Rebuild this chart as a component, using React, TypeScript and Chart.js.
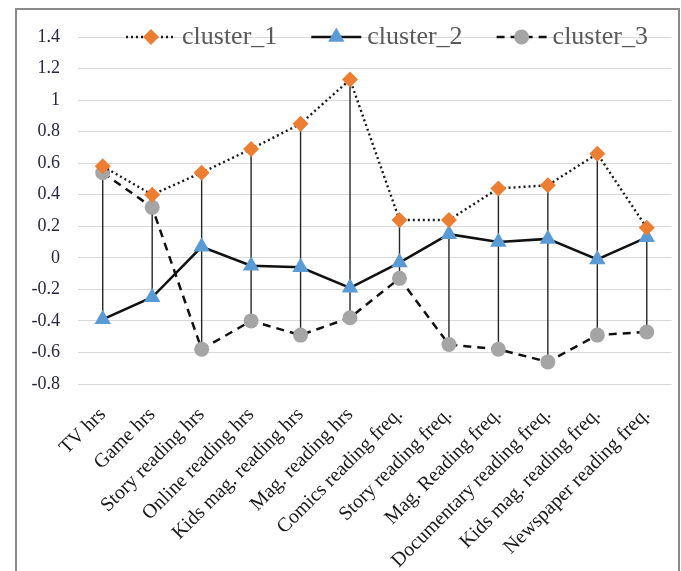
import React, { useEffect, useRef } from "react";
import { Chart, registerables } from "chart.js";

Chart.register(...registerables);

const categories = [
  "TV hrs",
  "Game hrs",
  "Story reading hrs",
  "Online reading hrs",
  "Kids mag. reading hrs",
  "Mag. reading hrs",
  "Comics reading freq.",
  "Story reading freq.",
  "Mag. Reading freq.",
  "Documentary reading freq.",
  "Kids mag. reading freq.",
  "Newspaper reading freq.",
];

const cluster1 = [0.58, 0.4, 0.54, 0.69, 0.85, 1.13, 0.24, 0.24, 0.44, 0.46, 0.66, 0.19];
const cluster2 = [-0.39, -0.25, 0.07, -0.05, -0.06, -0.19, -0.03, 0.15, 0.1, 0.12, -0.01, 0.13];
const cluster3 = [0.54, 0.32, -0.58, -0.4, -0.49, -0.38, -0.13, -0.55, -0.58, -0.66, -0.49, -0.47];

const yMin = -0.8;
const yMax = 1.4;
const yStep = 0.2;

const SERIF = '"Liberation Serif", "Times New Roman", serif';

const highLowPlugin = {
  id: "highLow",
  beforeDatasetsDraw(chart: any) {
    const { ctx, scales } = chart;
    const x = scales.x;
    const y = scales.y;
    const sets = chart.data.datasets.map((d: any) => d.data as number[]);
    ctx.save();
    ctx.strokeStyle = "#262626";
    ctx.lineWidth = 1.4;
    for (let i = 0; i < categories.length; i++) {
      const vals = sets.map((s: number[]) => s[i]);
      const hi = Math.max(...vals);
      const lo = Math.min(...vals);
      const px = x.getPixelForValue(i);
      ctx.beginPath();
      ctx.moveTo(px, y.getPixelForValue(hi));
      ctx.lineTo(px, y.getPixelForValue(lo));
      ctx.stroke();
    }
    ctx.restore();
  },
};

const legendPlugin = {
  id: "customLegend",
  afterDraw(chart: any) {
    const { ctx, scales } = chart;
    const cy = scales.y.getPixelForValue(yMax);
    const lineLen = 50;
    const gapText = 6;
    const itemGap = 34;
    let x = 126;
    ctx.save();
    ctx.font = `26px ${SERIF}`;
    ctx.textBaseline = "middle";
    ctx.textAlign = "left";
    chart.data.datasets.forEach((ds: any) => {
      ctx.save();
      ctx.strokeStyle = ds.borderColor;
      ctx.lineWidth = ds.borderWidth;
      ctx.setLineDash(ds.borderDash || []);
      ctx.beginPath();
      ctx.moveTo(x, cy);
      ctx.lineTo(x + lineLen, cy);
      ctx.stroke();
      ctx.restore();
      ctx.save();
      ctx.fillStyle = ds.pointBackgroundColor;
      const mx = x + lineLen / 2;
      const r = ds.pointRadius;
      ctx.beginPath();
      if (ds.pointStyle === "rectRot") {
        ctx.moveTo(mx - r, cy);
        ctx.lineTo(mx, cy - r);
        ctx.lineTo(mx + r, cy);
        ctx.lineTo(mx, cy + r);
        ctx.closePath();
      } else if (ds.pointStyle === "triangle") {
        ctx.moveTo(mx, cy - r);
        ctx.lineTo(mx + r * Math.sin((2 * Math.PI) / 3), cy - r * Math.cos((2 * Math.PI) / 3));
        ctx.lineTo(mx + r * Math.sin((4 * Math.PI) / 3), cy - r * Math.cos((4 * Math.PI) / 3));
        ctx.closePath();
      } else {
        ctx.arc(mx, cy, r, 0, Math.PI * 2);
      }
      ctx.fill();
      ctx.restore();
      ctx.fillStyle = "#595959";
      ctx.fillText(ds.label, x + lineLen + gapText, cy);
      const w = ctx.measureText(ds.label).width;
      x += lineLen + gapText + w + itemGap;
    });
    ctx.restore();
  },
};

export default function App() {
  const ref = useRef<HTMLCanvasElement | null>(null);

  useEffect(() => {
    if (!ref.current) return;
    const chart = new Chart(ref.current, {
      type: "line",
      data: {
        labels: categories,
        datasets: [
          {
            label: "cluster_1",
            data: cluster1,
            borderColor: "#1a1a1a",
            borderWidth: 2.4,
            borderDash: [2, 3],
            pointStyle: "rectRot",
            pointRadius: 8,
            pointHoverRadius: 8,
            pointBackgroundColor: "#ED7D31",
            pointBorderColor: "#ED7D31",
            pointBorderWidth: 0,
            tension: 0,
            fill: false,
          },
          {
            label: "cluster_2",
            data: cluster2,
            borderColor: "#111111",
            borderWidth: 2.5,
            pointStyle: "triangle",
            pointRadius: 9.5,
            pointHoverRadius: 9.5,
            pointBackgroundColor: "#5B9BD5",
            pointBorderColor: "#5B9BD5",
            pointBorderWidth: 0,
            tension: 0,
            fill: false,
          },
          {
            label: "cluster_3",
            data: cluster3,
            borderColor: "#111111",
            borderWidth: 2.5,
            borderDash: [8, 6],
            pointStyle: "circle",
            pointRadius: 7.5,
            pointHoverRadius: 7.5,
            pointBackgroundColor: "#A5A5A5",
            pointBorderColor: "#A5A5A5",
            pointBorderWidth: 0,
            tension: 0,
            fill: false,
          },
        ],
      },
      options: {
        animation: false,
        responsive: false,
        maintainAspectRatio: false,
        layout: { padding: { left: 0, right: 7, top: 37, bottom: 0 } },
        plugins: {
          legend: { display: false },
          tooltip: { enabled: false },
        },
        scales: {
          x: {
            offset: true,
            grid: { display: false, drawTicks: false },
            border: { display: false },
            ticks: {
              autoSkip: false,
              minRotation: 45,
              maxRotation: 45,
              padding: 19,
              color: "#1a1a1a",
              font: { family: SERIF, size: 20 },
            },
            afterFit(scale: any) {
              scale.height = 187;
              scale.paddingLeft = 0;
              scale.paddingRight = 0;
            },
          },
          y: {
            min: yMin,
            max: yMax,
            grid: { color: "#D9D9D9", lineWidth: 1, drawTicks: false },
            border: { display: false },
            ticks: {
              stepSize: yStep,
              padding: 18,
              color: "#262640",
              font: { family: SERIF, size: 18 },
              callback: (v: any) => String(Number(Number(v).toFixed(1))),
            },
            afterFit(scale: any) {
              scale.width = 78;
              scale.paddingTop = 0;
              scale.paddingBottom = 0;
            },
          },
        },
      },
      plugins: [highLowPlugin, legendPlugin],
    });
    return () => chart.destroy();
  }, []);

  return (
    <div style={{ position: "fixed", left: 0, top: 0, width: 681, height: 571, background: "#fff", overflow: "hidden" }}>
      <div
        style={{
          position: "absolute",
          left: 15,
          top: 8,
          width: 665,
          height: 600,
          boxSizing: "border-box",
          border: "2px solid #8a8a8a",
        }}
      />
      <canvas ref={ref} width={681} height={571} style={{ position: "absolute", left: 0, top: 0, width: 681, height: 571 }} />
    </div>
  );
}
